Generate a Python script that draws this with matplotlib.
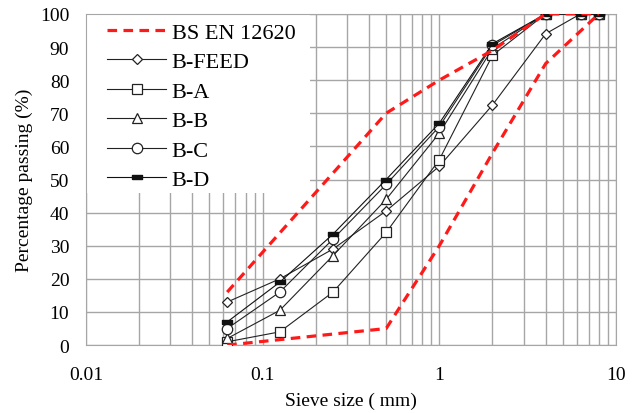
import numpy as np
import matplotlib
matplotlib.use("Agg")
import matplotlib.pyplot as plt
from matplotlib.patches import Rectangle
from matplotlib.ticker import FixedLocator, LogLocator, NullFormatter

plt.rcParams['font.family'] = ['Liberation Serif', 'DejaVu Serif']

# sieve sizes (mm)
sieve = [0.063, 0.125, 0.25, 0.5, 1, 2, 4, 6.3, 8]

# percentage passing for each sample
b_feed = [13, 20, 29, 40.5, 54, 72.5, 94, 100, 100]
b_a    = [1, 4, 16, 34, 56, 87.5, 100, 100, 100]
b_b    = [2, 10.5, 27, 44, 64, 89.5, 100, 100, 100]
b_c    = [5, 16, 32, 48.5, 66, 90.5, 100, 100, 100]
b_d    = [7, 19, 33.5, 50, 67, 91, 100, 100, 100]

# BS EN 12620 grading envelope
lim_up_x = [0.063, 0.5, 1, 2, 4, 8]
lim_up_y = [16, 70, 80, 89, 100, 100]
lim_lo_x = [0.063, 0.5, 1, 2, 4, 8]
lim_lo_y = [0, 5, 30, 58, 85, 100]

series = [("B-FEED", b_feed, "D", 5.5),
          ("B-A", b_a, "s", 7.5),
          ("B-B", b_b, "^", 7.5),
          ("B-C", b_c, "o", 7.5)]

bar_marker = [(-1, -0.4), (1, -0.4), (1, 0.4), (-1, 0.4), (-1, -0.4)]

fig = plt.figure(figsize=(6.37, 4.14), dpi=100)
ax = fig.add_axes([0.135, 0.164, 0.832, 0.8])

handles = []
for name, vals, mk, ms in series:
    h, = ax.plot(sieve, vals, color="#222222", lw=0.8, marker=mk, ms=ms,
                 mfc="white", mec="#222222", mew=0.9, label=name, zorder=3)
    handles.append(h)
h, = ax.plot(sieve, b_d, color="#111111", lw=0.8, marker=bar_marker, ms=7,
             mfc="#111111", mec="#111111", label="B-D", zorder=3)
handles.append(h)

hl, = ax.plot(lim_up_x, lim_up_y, color="#ff1a1a", lw=2.3, ls=(0, (3, 2)),
              label="BS EN 12620", zorder=4)
ax.plot(lim_lo_x, lim_lo_y, color="#ff1a1a", lw=2.3, ls=(0, (3, 2)), zorder=4)
handles.insert(0, hl)

ax.set_xscale("log")
ax.set_xlim(0.01, 10)
ax.set_ylim(0, 100)
ax.set_yticks(np.arange(0, 101, 10))
ax.xaxis.set_major_locator(FixedLocator([0.01, 0.1, 1, 10]))
ax.set_xticklabels(["0.01", "0.1", "1", "10"])
ax.xaxis.set_minor_locator(LogLocator(base=10, subs=np.arange(2, 10)))
ax.xaxis.set_minor_formatter(NullFormatter())
ax.tick_params(which="both", length=0, labelsize=14)
ax.tick_params(axis="x", pad=15)
ax.tick_params(axis="y", pad=12)

ax.grid(True, which="major", color="#a6a6a6", lw=1.0)
ax.grid(True, which="minor", axis="x", color="#a6a6a6", lw=1.0)
ax.set_axisbelow(True)
for s in ax.spines.values():
    s.set_color("#a6a6a6")

ax.set_xlabel("Sieve size ( mm)", fontsize=14, labelpad=6)
ax.set_ylabel("Percentage passing (%)", fontsize=14, labelpad=5)

# white block behind the legend (hides the grid there)
ax.add_patch(Rectangle((0, 0.458), 0.423, 0.542, transform=ax.transAxes,
                       facecolor="white", edgecolor="none", zorder=2.5))

leg = ax.legend(handles=handles, loc="upper left", bbox_to_anchor=(0.04, 0.975),
                fontsize=16, frameon=False, handlelength=2.65,
                labelspacing=0.4, handletextpad=0.25,
                borderaxespad=0.0, borderpad=0.0)
leg.set_zorder(5)

fig.savefig("out.png", dpi=100)
